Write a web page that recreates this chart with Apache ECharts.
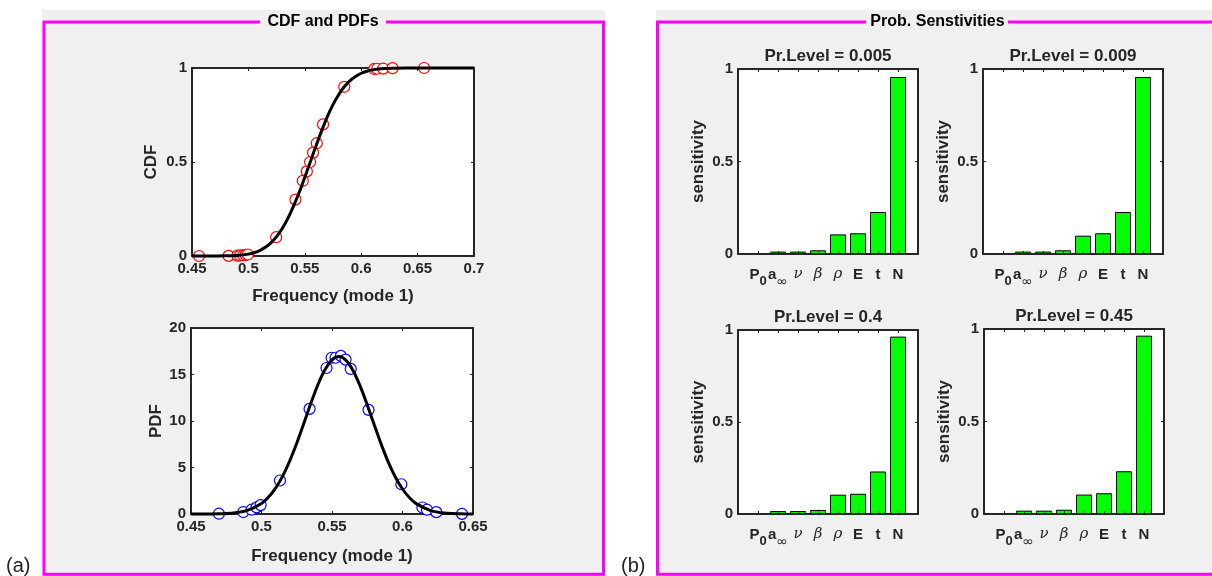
<!DOCTYPE html>
<html><head><meta charset="utf-8">
<script src="https://cdn.jsdelivr.net/npm/echarts@6/dist/echarts.min.js"></script>
<style>html,body{margin:0;padding:0;background:#fff}#c{width:1212px;height:576px}</style>
</head><body><div id="c"></div>
<script>
// ---------- data ----------
const cdfCurveX = [0.45,0.46,0.47,0.48,0.49,0.50,0.505,0.51,0.515,0.52,0.525,0.53,0.535,0.54,0.545,0.55,0.555,0.56,0.565,0.57,0.575,0.58,0.585,0.59,0.595,0.60,0.605,0.61,0.62,0.63,0.64,0.65,0.66,0.67,0.68,0.69,0.70];
const cdfCurveY = [0,0,0.0002,0.0007,0.003,0.010,0.017,0.029,0.046,0.070,0.103,0.146,0.200,0.265,0.338,0.419,0.503,0.587,0.667,0.741,0.805,0.858,0.900,0.932,0.955,0.972,0.983,0.990,0.997,0.999,1,1,1,1,1,1,1];
const cdfPtsX = [0.4562,0.4824,0.4904,0.4928,0.4954,0.4975,0.4995,0.5246,0.5417,0.5482,0.5518,0.5547,0.5573,0.5606,0.5662,0.585,0.6116,0.6142,0.6195,0.6278,0.6558];
const cdfPtsY = [0,0.0005,0.002,0.003,0.004,0.006,0.008,0.10,0.30,0.40,0.45,0.50,0.55,0.60,0.70,0.90,0.995,0.996,0.997,0.999,1];

const pdfCurveX = [0.45,0.46,0.47,0.48,0.49,0.50,0.505,0.51,0.515,0.52,0.525,0.53,0.535,0.54,0.545,0.55,0.555,0.56,0.565,0.57,0.575,0.58,0.585,0.59,0.595,0.60,0.605,0.61,0.62,0.63,0.64,0.65];
const pdfCurveY = [0.0,0.005,0.03,0.11,0.39,1.13,1.82,2.78,4.07,5.70,7.61,9.74,11.9,13.9,15.5,16.58,16.93,16.52,15.41,13.75,11.73,9.57,7.46,5.55,3.95,2.69,1.75,1.09,0.37,0.10,0.025,0.005];
const pdfPtsX = [0.4698,0.4871,0.4930,0.4965,0.4994,0.5131,0.5341,0.5461,0.5497,0.5525,0.5563,0.5596,0.5633,0.5759,0.5992,0.6141,0.6174,0.6240,0.6422];
const pdfPtsY = [0.03,0.21,0.46,0.71,0.96,3.6,11.3,15.7,16.8,16.8,17.0,16.6,15.6,11.2,3.2,0.7,0.46,0.2,0.02];

const sensLabels = ['P_0','a_∞','ν','β','ρ','E','t','N'];
const prLevels = ['0.005','0.009','0.4','0.45'];
const sens005 = [0,0.013,0.013,0.020,0.106,0.112,0.227,0.957];
const sens009 = [0,0.013,0.013,0.020,0.099,0.112,0.227,0.957];
const sens04  = [0,0.016,0.016,0.022,0.105,0.110,0.231,0.964];
const sens045 = [0,0.018,0.018,0.023,0.105,0.112,0.231,0.964];

// ---------- styling / layout ----------
const FONT = '"Liberation Sans", Arial, Helvetica, sans-serif';
const AX = '#262626';
const GREEK = ['ν','β','ρ'];

const grids = [
  {left:192, top:68,  width:282, height:188},  // CDF
  {left:191, top:328, width:282, height:186},  // PDF
  {left:738, top:69,  width:180, height:185},  // 0.005
  {left:983, top:69,  width:180, height:185},  // 0.009
  {left:738, top:330, width:180, height:184},  // 0.4
  {left:984, top:329, width:180, height:185}   // 0.45
];

function axLine(){ return {show:true, onZero:false, lineStyle:{color:AX, width:2}}; }
function axTick(){ return {show:true, inside:true, length:3, lineStyle:{color:AX, width:1}}; }
const labelStyle = {color:AX, fontFamily:FONT, fontWeight:'bold', fontSize:15};
const nameStyle = {color:AX, fontFamily:FONT, fontWeight:'bold', fontSize:17};

const xAxes = [], yAxes = [];
function addValueAxes(gi, xr, yr, xName, xGap, yName, yGap){
  const base = {gridIndex:gi, type:'value', splitLine:{show:false}, axisLine:axLine(), axisTick:axTick()};
  xAxes.push(Object.assign({}, base, {min:xr[0], max:xr[1], interval:xr[2], position:'bottom',
    axisLabel:Object.assign({margin:5}, labelStyle), name:xName, nameLocation:'middle', nameGap:xGap, nameTextStyle:nameStyle}));
  xAxes.push(Object.assign({}, base, {min:xr[0], max:xr[1], interval:xr[2], position:'top', axisLabel:{show:false}}));
  yAxes.push(Object.assign({}, base, {min:yr[0], max:yr[1], interval:yr[2], position:'left',
    axisLabel:Object.assign({margin:5}, labelStyle), name:yName, nameLocation:'middle', nameGap:yGap, nameTextStyle:nameStyle}));
  yAxes.push(Object.assign({}, base, {min:yr[0], max:yr[1], interval:yr[2], position:'right', axisLabel:{show:false}}));
}
const catData = [''].concat(sensLabels, ['']);
function fmtCat(v){
  if (!v) return '';
  if (v.indexOf('_') >= 0){ const p = v.split('_'); return '{m|' + p[0] + '}' + (p[1]==='∞' ? '{inf|∞}' : '{s|' + p[1] + '}'); }
  if (GREEK.indexOf(v) >= 0) return '{g|' + v + '}';
  return '{m|' + v + '}';
}
const tickFn = function(i){ return i > 0 && i < catData.length - 1; };
function addCatAxes(gi){
  const base = {gridIndex:gi, splitLine:{show:false}, axisLine:axLine(), z:5};
  xAxes.push(Object.assign({}, base, {type:'category', data:catData, boundaryGap:false, position:'bottom',
    axisTick:Object.assign(axTick(), {interval:tickFn}),
    axisLabel:{interval:0, margin:13, formatter:fmtCat, rich:{
      m:{fontFamily:FONT, fontWeight:'bold', fontSize:15, color:AX, verticalAlign:'top'},
      s:{fontFamily:FONT, fontWeight:'bold', fontSize:13, color:AX, verticalAlign:'top', padding:[8,0,0,0]},
      inf:{fontFamily:'"DejaVu Sans", sans-serif', fontSize:14, color:AX, verticalAlign:'top', padding:[8,0,0,0]},
      g:{fontFamily:'"DejaVu Serif", serif', fontStyle:'italic', fontSize:15, color:AX, verticalAlign:'top'}
    }}}));
  xAxes.push(Object.assign({}, base, {type:'category', data:catData, boundaryGap:false, position:'top',
    axisTick:Object.assign(axTick(), {interval:tickFn}), axisLabel:{show:false}}));
  const yb = {gridIndex:gi, type:'value', min:0, max:1, interval:0.5, splitLine:{show:false}, axisLine:axLine(), axisTick:axTick(), z:5};
  yAxes.push(Object.assign({}, yb, {position:'left', axisLabel:Object.assign({margin:5}, labelStyle),
    name:'sensitivity', nameLocation:'middle', nameGap:31, nameTextStyle:nameStyle}));
  yAxes.push(Object.assign({}, yb, {position:'right', axisLabel:{show:false}}));
}

addValueAxes(0, [0.45,0.7,0.05], [0,1,0.5], 'Frequency (mode 1)', 32, 'CDF', 32);
addValueAxes(1, [0.45,0.65,0.05], [0,20,5], 'Frequency (mode 1)', 34, 'PDF', 26);
for (let g = 2; g < 6; g++) addCatAxes(g);

const zip = (xs, ys) => xs.map((x, i) => [x, ys[i]]);
const series = [
  {type:'line', xAxisIndex:0, yAxisIndex:0, data:zip(cdfCurveX, cdfCurveY), showSymbol:false, smooth:0.3, clip:false,
   lineStyle:{color:'#000', width:3}, silent:true},
  {type:'scatter', xAxisIndex:0, yAxisIndex:0, data:zip(cdfPtsX, cdfPtsY), symbol:'circle', symbolSize:11, clip:false,
   itemStyle:{color:'#fff', borderColor:'#ff0000', borderWidth:1.2, opacity:1}},
  {type:'line', xAxisIndex:2, yAxisIndex:2, data:zip(pdfCurveX, pdfCurveY), showSymbol:false, smooth:0.3, clip:false,
   lineStyle:{color:'#000', width:3}, silent:true},
  {type:'scatter', xAxisIndex:2, yAxisIndex:2, data:zip(pdfPtsX, pdfPtsY), symbol:'circle', symbolSize:11, clip:false,
   itemStyle:{color:'#fff', borderColor:'#0000ff', borderWidth:1.2, opacity:1}}
];
const sensSets = [sens005, sens009, sens04, sens045];
sensSets.forEach((arr, k) => {
  const ai = 4 + 2 * k;
  series.push({type:'bar', xAxisIndex:ai, yAxisIndex:ai, data:[null].concat(arr, [null]), barWidth:'80%',
    itemStyle:{color:'#00ff00', borderColor:'#000', borderWidth:1}});
});

// ---------- decorations ----------
const graphics = [
  {type:'rect', z:-10, shape:{x:42, y:10, width:563, height:566}, style:{fill:'#f0f0f0'}},
  {type:'rect', z:-10, shape:{x:656, y:10, width:560, height:566}, style:{fill:'#f0f0f0'}},
  {type:'rect', z:1, shape:{x:44, y:22, width:559.5, height:552.3}, style:{fill:null, stroke:'#ff00ff', lineWidth:3}},
  {type:'rect', z:1, shape:{x:657.5, y:22, width:570, height:552.3}, style:{fill:null, stroke:'#ff00ff', lineWidth:3}},
  {type:'rect', z:2, shape:{x:260, y:16, width:126, height:12}, style:{fill:'#f0f0f0'}},
  {type:'rect', z:2, shape:{x:866, y:16, width:142, height:12}, style:{fill:'#f0f0f0'}},
  {type:'text', z:3, x:323, y:22, style:{text:'CDF and PDFs', font:'bold 16px ' + FONT, fill:'#000', textAlign:'center', textVerticalAlign:'middle'}},
  {type:'text', z:3, x:937.5, y:22, style:{text:'Prob. Senstivities', font:'bold 16px ' + FONT, fill:'#000', textAlign:'center', textVerticalAlign:'middle'}},
  {type:'text', z:3, x:6, y:566, style:{text:'(a)', font:'20px ' + FONT, fill:'#222', textAlign:'left', textVerticalAlign:'middle'}},
  {type:'text', z:3, x:621, y:566, style:{text:'(b)', font:'20px ' + FONT, fill:'#222', textAlign:'left', textVerticalAlign:'middle'}}
];
prLevels.forEach((p, k) => {
  const g = grids[2 + k];
  graphics.push({type:'text', z:3, x:g.left + g.width / 2, y:g.top - 13,
    style:{text:'Pr.Level = ' + p, font:'bold 17px ' + FONT, fill:AX, textAlign:'center', textVerticalAlign:'middle'}});
});

const chart = echarts.init(document.getElementById('c'), null, {renderer:'canvas'});
chart.setOption({
  backgroundColor:'#ffffff',
  animation:false,
  grid: grids.map(g => Object.assign({show:true, backgroundColor:'#ffffff', borderWidth:0, containLabel:false, outerBoundsMode:'none'}, g)),
  xAxis: xAxes,
  yAxis: yAxes,
  series: series,
  graphic: {elements: graphics}
});
</script></body></html>
